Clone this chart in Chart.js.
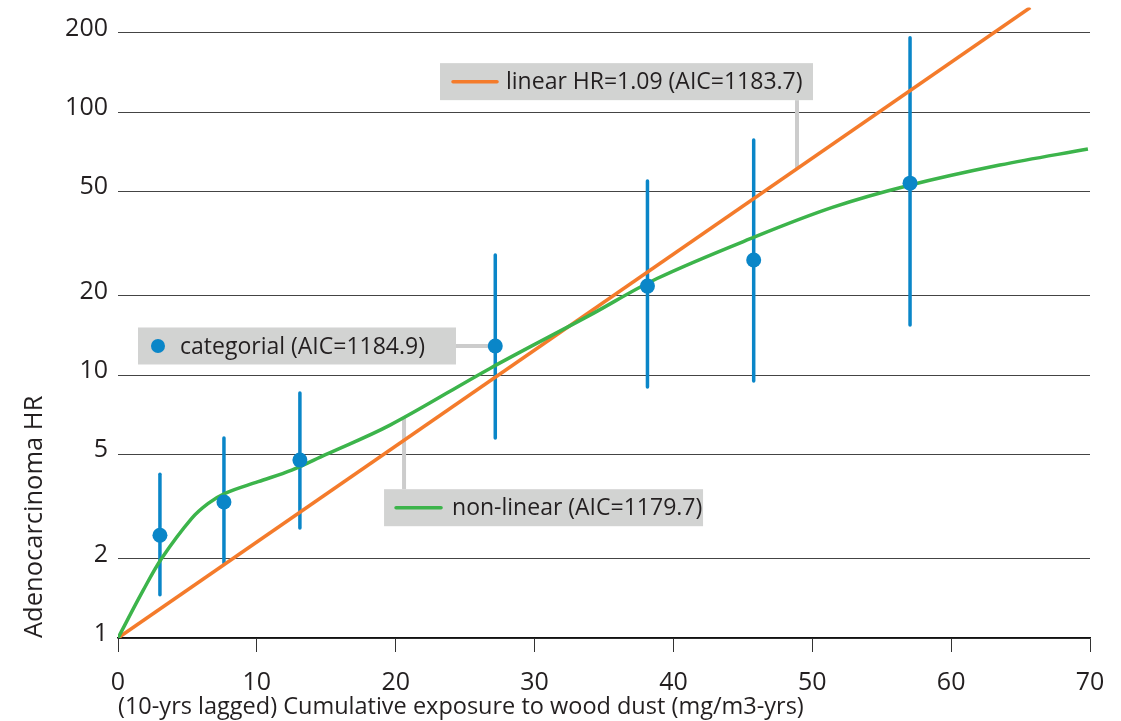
<!DOCTYPE html>
<html><head><meta charset="utf-8">
<script src="https://cdn.jsdelivr.net/npm/chart.js@4"></script>
<style>html,body{margin:0;padding:0;background:#fff}#wrap{width:1121px;height:721px;position:relative}</style>
</head><body><div id="wrap"><canvas id="c"></canvas></div>
<script>
// ---- data ----
const yTickValues = [1, 2, 5, 10, 20, 50, 100, 200];
const xTickValues = [0, 10, 20, 30, 40, 50, 60, 70];
const catX    = [3.02, 7.63, 13.1, 27.17, 38.13, 45.78, 57.04];
const catHR   = [2.46, 3.29, 4.75, 12.9, 21.8, 27.4, 53.7];
const catLow  = [1.46, 1.93, 2.62, 5.76, 9.0, 9.5, 15.5];
const catHigh = [4.20, 5.76, 8.54, 28.6, 54.7, 78.3, 192];
const linX  = [0, 65.7];
const linHR = [1, 250];
const nlX  = [0, 1.82, 3.15, 5.31, 6.50, 7.71, 10.10, 12.51, 14.91, 19.59, 26.79, 33.99, 38.82, 45.9, 51.5, 57.0, 63.5, 69.85];
const nlHR = [1, 1.52, 2.01, 2.85, 3.25, 3.55, 3.93, 4.35, 4.97, 6.45, 10.6, 16.9, 23.3, 33.6, 43.5, 52.7, 62.9, 72.4];
const labels = {
  linear: 'linear HR=1.09 (AIC=1183.7)',
  categorial: 'categorial (AIC=1184.9)',
  nonlinear: 'non-linear (AIC=1179.7)',
  xTitle: '(10-yrs lagged) Cumulative exposure to wood dust (mg/m3-yrs)',
  yTitle: 'Adenocarcinoma HR'
};

// ---- styles ----
const BLUE = '#0a86c8', ORANGE = '#f47b2b', GREEN = '#3cb44b', BOXGRAY = '#d2d3d2', LINKGRAY = '#cccccc', TXT = '#231f20';
const FONT = "'Open Sans', sans-serif";

const toPts = (xs, ys) => xs.map((x, i) => ({x, y: ys[i]}));
const geoInterp = (xs, ys, x) => {
  for (let i = 0; i < xs.length - 1; i++) {
    if (x >= xs[i] && x <= xs[i+1]) {
      const t = (x - xs[i]) / (xs[i+1] - xs[i]);
      return Math.exp(Math.log(ys[i]) + t * (Math.log(ys[i+1]) - Math.log(ys[i])));
    }
  }
  return ys[ys.length-1];
};

const annotations = [
  {text: labels.linear, swatch: 'line', color: ORANGE, x: 23.19, y: 130.6, w: 373,
   sw0: 13, sw1: 57, tx: 66, link: {side: 'bottom', x: 48.9, y: geoInterp(linX, linHR, 48.9)}},
  {text: labels.categorial, swatch: 'dot', color: BLUE, x: 1.44, y: catHR[3], w: 318,
   sw0: 20, tx: 42, link: {side: 'right', x: catX[3], y: catHR[3]}},
  {text: labels.nonlinear, swatch: 'line', color: GREEN, x: 19.16, y: 3.13, w: 319,
   sw0: 12, sw1: 57, tx: 68, link: {side: 'top', x: 20.6, y: geoInterp(nlX, nlHR, 20.6)}}
];
const BOX_H = 37;

const extras = {
  id: 'extras',
  beforeDatasetsDraw(chart) {
    const {ctx, scales: {x, y}} = chart;
    ctx.save();
    ctx.strokeStyle = LINKGRAY; ctx.lineWidth = 4; ctx.lineCap = 'butt';
    annotations.forEach(a => {
      const left = x.getPixelForValue(a.x), cy = y.getPixelForValue(a.y);
      const lx = x.getPixelForValue(a.link.x), ly = y.getPixelForValue(a.link.y);
      ctx.beginPath();
      if (a.link.side === 'bottom') { ctx.moveTo(lx, cy + BOX_H/2); ctx.lineTo(lx, ly); }
      else if (a.link.side === 'top') { ctx.moveTo(lx, cy - BOX_H/2); ctx.lineTo(lx, ly); }
      else { ctx.moveTo(left + a.w, cy); ctx.lineTo(lx, ly); }
      ctx.stroke();
    });
    ctx.strokeStyle = BLUE; ctx.lineWidth = 3.5; ctx.lineCap = 'round';
    catX.forEach((cx, i) => {
      const px = x.getPixelForValue(cx);
      ctx.beginPath();
      ctx.moveTo(px, y.getPixelForValue(catLow[i]));
      ctx.lineTo(px, y.getPixelForValue(catHigh[i]));
      ctx.stroke();
    });
    ctx.restore();
  },
  afterDatasetsDraw(chart) {
    const {ctx, scales: {x, y}} = chart;
    ctx.save();
    annotations.forEach(a => {
      const left = x.getPixelForValue(a.x), cy = y.getPixelForValue(a.y);
      ctx.fillStyle = BOXGRAY;
      ctx.fillRect(left, cy - BOX_H/2, a.w, BOX_H);
      if (a.swatch === 'line') {
        ctx.strokeStyle = a.color; ctx.lineWidth = 3.5; ctx.lineCap = 'round';
        ctx.beginPath(); ctx.moveTo(left + a.sw0, cy); ctx.lineTo(left + a.sw1, cy); ctx.stroke();
      } else {
        ctx.fillStyle = a.color;
        ctx.beginPath(); ctx.arc(left + a.sw0, cy, 7, 0, Math.PI*2); ctx.fill();
      }
      ctx.fillStyle = TXT;
      ctx.font = `23px ${FONT}`;
      ctx.textBaseline = 'middle';
      ctx.textAlign = 'left';
      ctx.fillText(a.text, left + a.tx, cy + 1);
    });
    ctx.restore();
  }
};

new Chart(document.getElementById('c'), {
  type: 'scatter',
  data: {
    datasets: [
      {label: 'categorial', data: toPts(catX, catHR), backgroundColor: BLUE, borderColor: BLUE,
       pointRadius: 7.5, pointHoverRadius: 7.5, borderWidth: 0, order: 0},
      {label: 'linear', data: toPts(linX, linHR), showLine: true, borderColor: ORANGE, borderWidth: 3.5,
       pointRadius: 0, order: 2},
      {label: 'non-linear', data: toPts(nlX, nlHR), showLine: true, borderColor: GREEN, borderWidth: 3.5,
       pointRadius: 0, tension: 0.35, order: 1}
    ]
  },
  options: {
    responsive: true, maintainAspectRatio: false, animation: false,
    layout: {padding: {left: 18, right: 31, top: 7, bottom: 0}},
    plugins: {legend: {display: false}, tooltip: {enabled: false}},
    scales: {
      x: {
        type: 'linear', min: 0, max: 70,
        afterBuildTicks: s => { s.ticks = xTickValues.map(v => ({value: v})); },
        afterFit: s => { s.height = 83; s.paddingLeft = 0; s.paddingRight = 0; },
        grid: {drawOnChartArea: false, drawTicks: true, tickLength: 14, color: '#333', tickWidth: 1},
        border: {display: true, color: '#111', width: 1.5},
        ticks: {padding: 16, color: TXT, font: {family: FONT, size: 25}, callback: v => String(v), maxRotation: 0},
        title: {display: true, text: labels.xTitle, align: 'start', color: TXT,
                font: {family: FONT, size: 23.5}, padding: {top: 0, bottom: 0}}
      },
      y: {
        type: 'logarithmic', min: 1, max: 250,
        afterBuildTicks: s => { s.ticks = yTickValues.map(v => ({value: v})); },
        afterFit: s => { s.width = 100; s.paddingTop = 0; s.paddingBottom = 0; },
        grid: {drawTicks: false, color: '#444', lineWidth: 1},
        border: {display: false},
        ticks: {padding: 10, color: TXT, font: {family: FONT, size: 25}, callback: v => String(v), labelOffset: -4, autoSkip: false},
        title: {display: true, text: labels.yTitle, align: 'start', color: TXT,
                font: {family: FONT, size: 25.5}, padding: {top: 1, bottom: 0}}
      }
    }
  },
  plugins: [extras]
});
</script>
</body></html>
